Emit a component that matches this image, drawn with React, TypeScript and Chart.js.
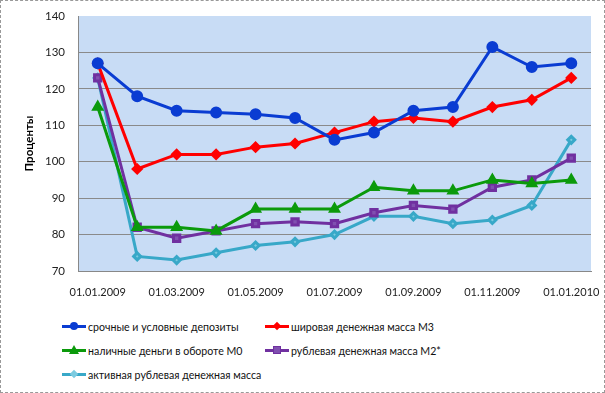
import React, { useEffect, useRef } from "react";
import { Chart, registerables } from "chart.js";

Chart.register(...registerables);

const categories = [
  "01.01.2009", "01.02.2009", "01.03.2009", "01.04.2009", "01.05.2009", "01.06.2009", "01.07.2009",
  "01.08.2009", "01.09.2009", "01.10.2009", "01.11.2009", "01.12.2009", "01.01.2010",
];
const deposits = [127, 118, 114, 113.5, 113, 112, 106, 108, 114, 115, 131.5, 126, 127];
const m3 = [127, 98, 102, 102, 104, 105, 108, 111, 112, 111, 115, 117, 123];
const m0 = [115, 82, 82, 81, 87, 87, 87, 93, 92, 92, 95, 94, 95];
const m2 = [123, 82, 79, 81, 83, 83.5, 83, 86, 88, 87, 93, 95, 101];
const active = [123, 74, 73, 75, 77, 78, 80, 85, 85, 83, 84, 88, 106];

const seriesNames = [
  "срочные и условные депозиты",
  "шировая денежная масса М3",
  "наличные деньги в обороте М0",
  "рублевая денежная масса М2*",
  "активная рублевая денежная масса",
];
const yTitle = "Проценты";

const FONT = "Lato, 'Open Sans', sans-serif";

const styles = [
  { color: "#0a3cd2", point: "circle", r: 4.5, fill: "#0a3cd2" },
  { color: "#ff0000", point: "rectRot", r: 4, fill: "#ff0000" },
  { color: "#0b9a0b", point: "triangle", r: 4.5, fill: "#0b9a0b" },
  { color: "#7030a0", point: "rect", r: 4.5, fill: "#8050b0" },
  { color: "#38a8c8", point: "rectRot", r: 3.5, fill: "#7ccbe0" },
];

const bgPlugin = {
  id: "bgPlot",
  beforeDraw(chart: any) {
    const { ctx, chartArea } = chart;
    if (!chartArea) return;
    ctx.save();
    ctx.fillStyle = "#c8dcf5";
    ctx.fillRect(chartArea.left, chartArea.top, chartArea.right - chartArea.left, chartArea.bottom - chartArea.top);
    ctx.restore();
  },
};

function Marker({ idx }: { idx: number }) {
  const s = styles[idx];
  let m: React.ReactNode = null;
  const base: React.CSSProperties = { position: "absolute", left: 8, top: 0 };
  if (s.point === "circle") {
    m = <div style={{ ...base, left: 8, top: -1, width: 8, height: 8, borderRadius: 4, background: s.fill }} />;
  } else if (s.point === "rect") {
    m = <div style={{ ...base, left: 8, top: -1, width: 8, height: 8, background: s.fill, border: "1px solid " + s.color, boxSizing: "border-box" }} />;
  } else if (s.point === "triangle") {
    m = <div style={{ ...base, left: 7, top: -2, width: 0, height: 0, borderLeft: "5px solid transparent", borderRight: "5px solid transparent", borderBottom: "9px solid " + s.fill }} />;
  } else {
    m = <div style={{ ...base, left: 9, top: 0, width: 6, height: 6, background: s.fill, transform: "rotate(45deg)" }} />;
  }
  return (
    <div style={{ position: "relative", width: 24, height: 8, display: "inline-block" }}>
      <div style={{ position: "absolute", left: 0, top: 2, width: 24, height: 3, background: s.color }} />
      {m}
    </div>
  );
}

export default function App() {
  const ref = useRef<HTMLCanvasElement>(null);
  useEffect(() => {
    const data = [deposits, m3, m0, m2, active];
    const chart = new Chart(ref.current!, {
      type: "line",
      data: {
        labels: categories,
        datasets: data.map((d, i) => ({
          label: seriesNames[i],
          data: d,
          borderColor: styles[i].color,
          backgroundColor: styles[i].fill,
          pointBackgroundColor: styles[i].fill,
          pointBorderColor: styles[i].color,
          pointStyle: styles[i].point as any,
          pointRadius: styles[i].r,
          borderWidth: 3,
          tension: 0,
        })),
      },
      options: {
        animation: false,
        responsive: false,
        layout: { padding: { left: 12, right: 14, top: 16, bottom: 0 } },
        plugins: { legend: { display: false }, tooltip: { enabled: false } },
        scales: {
          x: {
            offset: true,
            grid: { display: true, drawOnChartArea: false, drawTicks: true, tickLength: 14, tickColor: "rgba(0,0,0,0)" },
            border: { color: "#888888", width: 1 },
            afterFit: (s: any) => { s.height = 30; },
            ticks: {
              autoSkip: false,
              maxRotation: 0,
              padding: 1,
              color: "#222",
              font: { family: FONT, size: 11 },
              callback: (_v: any, i: number) => (i % 2 === 0 ? categories[i] : ""),
            },
          },
          y: {
            min: 70,
            max: 140,
            afterFit: (s: any) => { s.width = 66; },
            grid: {
              color: (c: any) => (c.tick && c.tick.value === 140 ? "rgba(0,0,0,0)" : "#8a8a8a"),
              drawTicks: true,
              tickLength: 12,
              tickColor: "rgba(0,0,0,0)",
            },
            border: { color: "#888888", width: 1 },
            ticks: { stepSize: 10, padding: 1, color: "#222", font: { family: FONT, size: 11.5 } },
            title: { display: true, text: yTitle, color: "#000", font: { family: FONT, size: 11.5, weight: "bold" }, padding: { top: 10, bottom: 0 } },
          },
        },
      },
      plugins: [bgPlugin],
    });
    return () => chart.destroy();
  }, []);

  const rows = [[0, 1], [2, 3], [4]];
  const rowY = [320, 344, 368];
  return (
    <div style={{ position: "fixed", left: 0, top: 0, width: 605, height: 393, boxSizing: "border-box", border: "1px dashed #999", background: "#fff", fontFamily: FONT, overflow: "hidden" }}>
      <canvas ref={ref} width={605} height={301} style={{ position: "absolute", left: -1, top: -1 }} />
      {rows.map((r, ri) =>
        r.map((idx, ci) => (
          <div key={idx} style={{ position: "absolute", left: ci === 0 ? 61 : 264, top: rowY[ri], display: "flex", alignItems: "center", fontSize: 10.6, color: "#111", whiteSpace: "nowrap" }}>
            <Marker idx={idx} />
            <span style={{ marginLeft: 2 }}>{seriesNames[idx]}</span>
          </div>
        ))
      )}
    </div>
  );
}
